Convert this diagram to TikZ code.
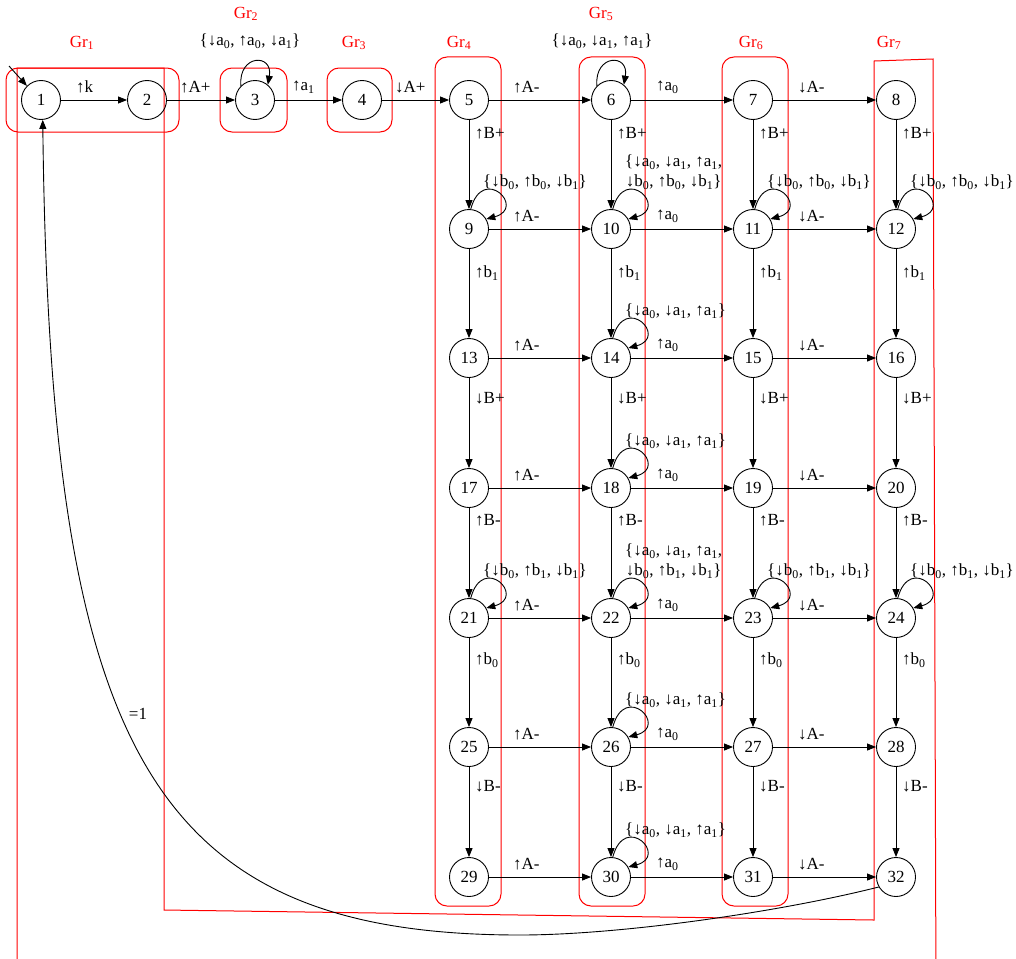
\documentclass[tikz,border=0pt]{standalone}
\usepackage{fontspec}
\setmainfont{Liberation Serif}
\usetikzlibrary{arrows.meta,calc}
\newcommand\sbs[1]{\textsubscript{#1}}
\newcommand\LBa{\{↓b\sbs0, ↑b\sbs0, ↓b\sbs1\}}
\newcommand\LBb{\{↓b\sbs0, ↑b\sbs1, ↓b\sbs1\}}
\newcommand\LAa{\{↓a\sbs0, ↓a\sbs1, ↑a\sbs1\}}
\tikzset{
 st/.style={circle, draw, line width=0.9pt, minimum size=39pt, inner sep=0pt},
 ed/.style={-{Triangle[length=9pt,width=7pt]}, line width=0.9pt},
 grp/.style={draw=red, line width=1pt, rounded corners=12pt},
 gl/.style={text=red, inner sep=0pt},
 lb/.style={inner sep=0pt},
}
\begin{document}
\begin{tikzpicture}[x=1pt,y=-1pt,font=\fontsize{17}{20}\selectfont]
\useasboundingbox (0,0) rectangle (1016,958);
% red group outlines
\begin{scope}
\clip (0,0) rectangle (1016,958);
\draw[red, line width=1pt] (17,1000) -- (17,68) -- (164,68) -- (164,910) -- (874,920) -- (874,61) -- (933,59) -- (936,1000);
\end{scope}
\draw[grp] (6,68) rectangle (179,132);
\draw[grp] (220,68) rectangle (287,132);
\draw[grp] (327,68) rectangle (392,132);
\draw[grp] (435,57) rectangle (501,906);
\draw[grp] (579,57) rectangle (645,906);
\draw[grp] (722,57) rectangle (788,906);
\node[gl] (g1) at (82,43) {Gr\sbs1};
\node[gl] (g2) at (246,14) {Gr\sbs2};
\node[gl] (g3) at (354,43) {Gr\sbs3};
\node[gl] (g4) at (459,43) {Gr\sbs4};
\node[gl] (g5) at (601,14) {Gr\sbs5};
\node[gl] (g6) at (751,43) {Gr\sbs6};
\node[gl] (g7) at (889,43) {Gr\sbs7};
% nodes
\node[st] (n1) at (41,100) {1};
\node[st] (n2) at (147,100) {2};
\node[st] (n3) at (255,100) {3};
\node[st] (n4) at (362,100) {4};
\foreach \c/\x in {0/469,1/611,2/753,3/896} {
  \foreach \r/\y in {0/100,1/229,2/358,3/488,4/618,5/747,6/877} {
    \pgfmathtruncatemacro\k{5+4*\r+\c}
    \node[st] (n\k) at (\x,\y) {\k};
  }
}
% start arrow
\coordinate (s0) at (9,66);
\draw[ed] (s0) -- (n1.135);
% first row chain
\draw[ed] (n1) -- (n2);
\node[lb,anchor=west] (l12) at ($(n1.east)+(15,-13)$) {↑k};
\draw[ed] (n2) -- (n3);
\node[lb,anchor=west] (l23) at ($(n2.east)+(13,-13)$) {↑A+};
\draw[ed] (n3) -- (n4);
\node[lb,anchor=west] (l34) at ($(n3.east)+(17,-13)$) {↑a\sbs1};
\draw[ed] (n4) -- (n5);
\node[lb,anchor=west] (l45) at ($(n4.east)+(13,-13)$) {↓A+};
% horizontal edges
\foreach \r in {0,...,6} {
  \pgfmathtruncatemacro\ka{5+4*\r}
  \pgfmathtruncatemacro\kb{\ka+1}
  \pgfmathtruncatemacro\kc{\ka+2}
  \pgfmathtruncatemacro\kd{\ka+3}
  \draw[ed] (n\ka) -- (n\kb);
  \node[lb,anchor=west] at ($(n\ka.east)+(24,-13)$) {↑A-};
  \draw[ed] (n\kb) -- (n\kc);
  \node[lb,anchor=west] at ($(n\kb.east)+(25,-13)$) {↑a\sbs0};
  \draw[ed] (n\kc) -- (n\kd);
  \node[lb,anchor=west] at ($(n\kc.east)+(25,-13)$) {↓A-};
}
% vertical edges
\foreach \c in {0,...,3} {
  \foreach \r/\lab/\off in {0/{↑B+}/33, 1/{↑b\sbs1}/44, 2/{↓B+}/40, 3/{↑B-}/32, 4/{↑b\sbs0}/42, 5/{↓B-}/39} {
    \pgfmathtruncatemacro\ka{5+4*\r+\c}
    \pgfmathtruncatemacro\kb{\ka+4}
    \draw[ed] (n\ka) -- (n\kb);
    \node[lb,anchor=west] at ($(n\ka.center)+(6,\off)$) {\lab};
  }
}
% top self loops
\foreach \k in {3,6} {
  \draw[ed] (n\k.135) .. controls +(95:32pt) and +(80:32pt) .. (n\k.50);
}
\node[lb] (t3) at ($(n3.center)+(-5,-59)$) {\{↓a\sbs0, ↑a\sbs0, ↓a\sbs1\}};
\node[lb] (t6) at ($(n6.center)+(-9,-59)$) {\LAa};
% side self loops
\foreach \k in {9,10,11,12,14,18,21,22,23,24,26,30} {
  \draw[ed] (n\k.85) .. controls +(75:47pt) and +(15:42pt) .. (n\k.30);
}
\foreach \k/\t in {9/{\LBa},11/{\LBa},12/{\LBa},14/{\LAa},18/{\LAa},21/{\LBb},23/{\LBb},24/{\LBb},26/{\LAa},30/{\LAa}} {
  \node[lb,anchor=west] at ($(n\k.center)+(14,-47)$) {\t};
}
\node[lb,anchor=west,align=center] (t10) at ($(n10.center)+(14,-57)$) {\{↓a\sbs0, ↓a\sbs1, ↑a\sbs1,\\ ↓b\sbs0, ↑b\sbs0, ↓b\sbs1\}};
\node[lb,anchor=west,align=center] (t22) at ($(n22.center)+(14,-57)$) {\{↓a\sbs0, ↓a\sbs1, ↑a\sbs1,\\ ↓b\sbs0, ↑b\sbs1, ↓b\sbs1\}};
% return curve
\coordinate (m) at (520,935);
\draw[ed] (n32.210) .. controls (780,912) and (620,935) .. (m) .. controls (150,935) and (50,750) .. (n1.-85);
\node[lb] (eq) at (138,714) {=1};
\end{tikzpicture}
\end{document}
